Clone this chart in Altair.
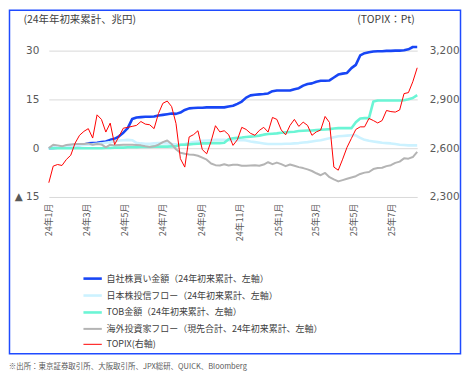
import altair as alt
import pandas as pd

# ---- data (weekly) ----
start_date = "2024-01-01"
n_weeks = 85

series_names = [
    "自社株買い金額（24年初来累計、左軸）",
    "日本株投信フロー（24年初来累計、左軸）",
    "TOB金額（24年初来累計、左軸）",
    "海外投資家フロー（現先合計、24年初来累計、左軸）",
    "TOPIX(右軸)",
]
series_colors = ["#1846F5", "#CCF2FF", "#6BF5D5", "#B4B4B4", "#FF0000"]
series_widths = [2.6, 2.6, 2.6, 2.0, 1.0]

buyback = [0, 0.1, 0.2, 0.3, 0.5, 0.6, 0.8, 1.0, 1.2, 1.5,
           1.6, 1.7, 1.9, 2.1, 2.6, 2.9, 3.7, 4.8, 6.2, 9.0,
           9.5, 9.6, 9.7, 9.7, 9.8, 10.1, 10.3, 10.5, 10.7, 10.6,
           11.0, 11.8, 12.3, 12.4, 12.5, 12.5, 12.6, 12.6, 12.6, 12.6,
           12.6, 12.9, 13.1, 13.7, 14.4, 15.6, 16.3, 16.5, 16.6, 16.7,
           16.9, 17.6, 17.8, 17.8, 17.8, 17.8, 18.2, 18.5, 19.3, 19.8,
           20.0, 20.5, 20.8, 20.8, 20.9, 21.8, 22.7, 23.0, 23.2, 24.7,
           25.7, 28.6, 29.3, 29.6, 29.8, 29.9, 29.9, 30.0, 30.0, 30.1,
           30.1, 30.2, 30.5, 31.2, 31.2]

trust_flow = [0, 0.2, 0.3, 0.4, 0.5, 0.6, 0.8, 0.9, 1.0, 1.1,
              1.2, 1.4, 1.5, 1.7, 1.9, 2.2, 2.4, 2.5, 2.6, 2.5,
              1.7, 1.5, 1.4, 1.4, 1.5, 1.6, 1.6, 1.5, 1.3, 1.2,
              1.1, 1.3, 1.6, 1.9, 2.1, 2.3, 2.4, 2.5, 2.6, 2.6,
              2.6, 2.5, 2.4, 2.5, 2.6, 2.4, 2.1, 1.9, 1.7, 1.5,
              1.3, 1.3, 1.3, 1.3, 1.4, 1.4, 1.5, 1.6, 1.8, 1.9,
              2.1, 2.3, 2.5, 2.8, 3.1, 3.4, 3.7, 3.8, 3.9, 4.0,
              4.0, 3.2, 2.6, 2.3, 2.1, 1.9, 1.7, 1.6, 1.5, 1.3,
              1.1, 1.0, 0.9, 0.9, 0.9]

tob = [0, 0, 0, 0, 0, 0, 0, 0, 0, 0,
       0, 0, 0, 0.1, 0.1, 0.2, 0.2, 0.2, 0.3, 0.3,
       0.3, 0.4, 0.4, 0.4, 0.5, 0.5, 0.5, 0.5, 0.6, 0.6,
       1.1, 1.1, 1.2, 1.3, 1.4, 1.5, 1.5, 1.6, 1.6, 1.6,
       1.7, 2.8, 3.1, 3.2, 3.3, 3.5, 3.6, 3.7, 3.9, 4.2,
       4.4, 4.5, 4.6, 4.8, 4.9, 5.0, 5.1, 5.3, 5.4, 5.5,
       5.5, 5.6, 5.7, 5.8, 5.9, 6.1, 6.2, 6.2, 6.2, 6.2,
       8.0, 9.2, 9.3, 9.3, 14.4, 14.7, 14.7, 14.7, 14.7, 14.7,
       14.7, 14.8, 15.1, 15.5, 16.4]

foreign_flow = [0.1, 1.1, 0.9, 0.6, 1.0, 1.2, 1.3, 1.3, 1.3, 1.5,
                1.1, 1.3, 1.2, 0.3, 1.1, 0.9, 1.0, 1.1, 1.1, 1.1,
                1.0, 0.9, 0.6, 0.4, 0.6, 1.1, 1.9, 2.4, 1.3, -0.3,
                -1.4, -1.7, -1.9, -2.0, -2.3, -2.9, -3.5, -4.7, -5.2, -5.3,
                -4.9, -5.3, -5.1, -5.1, -5.4, -5.4, -5.3, -5.2, -5.4, -5.0,
                -4.3, -4.9, -4.4, -4.9, -5.5, -5.0, -5.4, -5.8, -6.1, -6.5,
                -7.0, -7.7, -8.3, -7.6, -8.9, -9.6, -10.2, -9.8, -9.4, -9.0,
                -8.6, -7.9, -7.5, -7.3, -6.4, -6.1, -6.0, -5.5, -5.2, -4.5,
                -4.1, -3.1, -3.2, -2.7, -1.1]

topix = [2388, 2490, 2500, 2494, 2531, 2557, 2632, 2680, 2704, 2721,
         2663, 2806, 2778, 2700, 2755, 2623, 2673, 2724, 2729, 2735,
         2741, 2765, 2749, 2745, 2721, 2814, 2877, 2891, 2857, 2753,
         2536, 2484, 2670, 2684, 2708, 2592, 2566, 2643, 2739, 2701,
         2708, 2684, 2618, 2653, 2729, 2716, 2692, 2680, 2710, 2729,
         2700, 2790, 2778, 2713, 2683, 2741, 2778, 2735, 2761, 2741,
         2680, 2701, 2713, 2796, 2759, 2484, 2465, 2533, 2606, 2661,
         2716, 2732, 2732, 2784, 2771, 2756, 2771, 2833, 2826, 2823,
         2836, 2937, 2943, 3010, 3096]

left_ticks = [-15, 0, 15, 30]
right_ticks = [2300, 2600, 2900, 3200]
tick_months = ["2024-01-01", "2024-03-01", "2024-05-01", "2024-07-01", "2024-09-01",
               "2024-11-01", "2025-01-01", "2025-03-01", "2025-05-01", "2025-07-01"]
footnote = "※出所：東京証券取引所、大阪取引所、JPX総研、QUICK、Bloomberg"

# ---- tables ----
dates = pd.date_range(start_date, periods=n_weeks, freq="7D").strftime("%Y-%m-%d").tolist()
rows = []
for name, vals in zip(series_names[:4], [buyback, trust_flow, tob, foreign_flow]):
    for d, v in zip(dates, vals):
        rows.append({"date": d, "series": name, "value": v})
df_left = pd.DataFrame(rows)
df_topix = pd.DataFrame({"date": dates, "series": series_names[4], "topix": topix})


def dt(s):
    t = pd.Timestamp(s)
    return alt.DateTime(year=t.year, month=t.month, date=t.day, utc=True)


FONT_NUM = "DejaVu Sans, Noto Sans CJK JP"
FONT_JP = "Noto Sans CJK JP"

x_enc = alt.X(
    "date:T",
    scale=alt.Scale(type="utc", domain=[dt(dates[0]), dt(dates[-1])], nice=False),
    axis=alt.Axis(
        values=[dt(m) for m in tick_months],
        labelExpr="utcFormat(datum.value, '%y') + '年' + (utcmonth(datum.value) + 1) + '月'",
        labelAngle=270,
        labelFont=FONT_JP,
        labelFontSize=9,
        labelColor="#595959",
        labelPadding=6,
        grid=False,
        domain=False,
        ticks=False,
        title=None,
    ),
)

color_scale = alt.Scale(domain=series_names, range=series_colors)
width_scale = alt.Scale(type="ordinal", domain=series_names, range=series_widths)

legend = alt.Legend(
    orient="none",
    legendX=33,
    legendY=234,
    direction="vertical",
    title=None,
    labelFont=FONT_JP,
    labelFontSize=9,
    labelColor="#404040",
    labelLimit=400,
    labelOffset=3,
    symbolType="stroke",
    symbolSize=340,
    rowPadding=0,
    padding=0,
)

left_lines = alt.Chart(df_left).mark_line(strokeJoin="round").encode(
    x=x_enc,
    y=alt.Y(
        "value:Q",
        scale=alt.Scale(domain=[-15, 35], nice=False, zero=False),
        axis=alt.Axis(
            values=left_ticks,
            labelExpr="datum.value < 0 ? '▲ ' + format(-datum.value, 'd') : format(datum.value, 'd')",
            labelFont=FONT_NUM,
            labelFontSize=10.5,
            labelColor="#595959",
            labelPadding=10,
            grid=True,
            gridColor="#D9D9D9",
            domain=False,
            ticks=False,
            title="(24年年初来累計、兆円)",
            titleAngle=0,
            titleAlign="left",
            titleBaseline="middle",
            titleX=-26,
            titleY=-15,
            titleFont=FONT_JP,
            titleFontSize=10.5,
            titleFontWeight="normal",
            titleColor="#404040",
        ),
    ),
    color=alt.Color("series:N", scale=color_scale, legend=legend),
    strokeWidth=alt.StrokeWidth("series:N", scale=width_scale, legend=legend),
)

topix_line = alt.Chart(df_topix).mark_line(strokeJoin="round").encode(
    x=x_enc,
    y=alt.Y(
        "topix:Q",
        scale=alt.Scale(domain=[2300, 3300], nice=False, zero=False),
        axis=alt.Axis(
            orient="right",
            values=right_ticks,
            labelExpr="format(datum.value, ',.0f')",
            labelFont=FONT_NUM,
            labelFontSize=10.5,
            labelColor="#595959",
            labelPadding=12,
            grid=False,
            domain=False,
            ticks=False,
            title="(TOPIX：Pt)",
            titleAngle=0,
            titleAlign="right",
            titleBaseline="middle",
            titleX=-3,
            titleY=-15,
            titleFont=FONT_JP,
            titleFontSize=10.5,
            titleFontWeight="normal",
            titleColor="#404040",
        ),
    ),
    color=alt.Color("series:N", scale=color_scale, legend=legend),
    strokeWidth=alt.StrokeWidth("series:N", scale=width_scale, legend=legend),
)

frame = alt.Chart(alt.Data(values=[{}])).mark_rect(
    fill="transparent", stroke="#1F4BFF", strokeWidth=1.5
).encode(
    x=alt.value(-39.5), x2=alt.value(413.5), y=alt.value(-24.5), y2=alt.value(320.5)
)

chart = (
    alt.layer(frame, left_lines, topix_line)
    .resolve_scale(y="independent")
    .properties(
        width=370,
        height=163,
        padding=0,
        title=alt.TitleParams(
            text=footnote,
            orient="bottom",
            anchor="start",
            frame="bounds",
            font=FONT_JP,
            fontSize=7.5,
            fontWeight="normal",
            color="#595959",
            offset=9,
        ),
    )
    .configure_view(stroke=None)
)

chart.save("out.html", embed_options={"renderer": "svg", "actions": False})
